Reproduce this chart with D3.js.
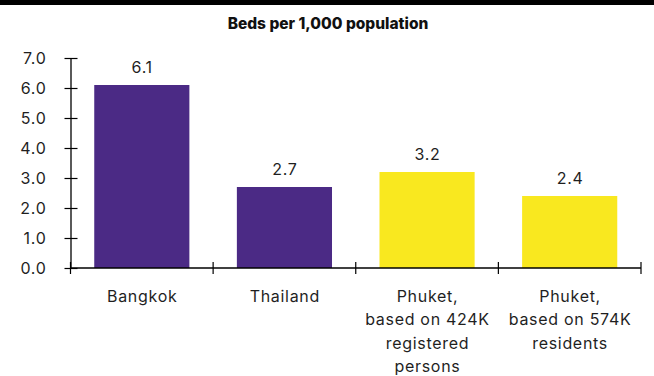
<!DOCTYPE html>
<html>
<head>
<meta charset="utf-8">
<script src="https://cdn.jsdelivr.net/npm/d3@7"></script>
<style>
  html, body { margin: 0; padding: 0; background: #fff; }
  svg { display: block; font-family: Inter, Roboto, "Noto Sans", sans-serif; }
  .lbl { letter-spacing: 0.7px; }
</style>
</head>
<body>
<svg id="chart" width="654" height="376"></svg>
<script>
// Hospital beds per 1,000 population
const categories = [
  ["Bangkok"],
  ["Thailand"],
  ["Phuket,", "based on 424K", "registered", "persons"],
  ["Phuket,", "based on 574K", "residents"]
];
const values = [6.1, 2.7, 3.2, 2.4];
const barColors = ["#4b2a85", "#4b2a85", "#f9e81f", "#f9e81f"];
const yTicks = [0, 1, 2, 3, 4, 5, 6, 7];
const title = "Beds per 1,000 population";

const svg = d3.select("#chart");
const W = 654, H = 376;
const plotLeft = 70.5, plotRight = 641, plotTop = 58, plotBottom = 268;
const textColor = "#1f1f1f";
const labelSize = 16;

// top rule
svg.append("rect").attr("x", 0).attr("y", 0).attr("width", W).attr("height", 5).attr("fill", "#000");

svg.append("text")
  .attr("x", W / 2 + 1).attr("y", 28.5)
  .attr("text-anchor", "middle")
  .attr("font-weight", 800)
  .attr("font-size", 15.5)
  .attr("fill", "#111")
  .text(title);

const idx = d3.range(values.length);
const x = d3.scaleBand().domain(idx).range([plotLeft, plotRight]).paddingInner(0.333).paddingOuter(0.1665);
const y = d3.scaleLinear().domain([0, 7]).range([plotBottom, plotTop]);

// bars
svg.append("g").selectAll("rect").data(idx).join("rect")
  .attr("x", i => x(i))
  .attr("y", i => y(values[i]))
  .attr("width", x.bandwidth())
  .attr("height", i => y(0) - y(values[i]))
  .attr("fill", i => barColors[i]);

// value labels
svg.append("g").selectAll("text").data(idx).join("text")
  .attr("class", "lbl")
  .attr("x", i => x(i) + x.bandwidth() / 2 + 0.4)
  .attr("y", i => y(values[i]) - 12.5)
  .attr("text-anchor", "middle")
  .attr("font-size", labelSize)
  .attr("fill", textColor)
  .text(i => values[i].toFixed(1));

// y axis
const yAxis = svg.append("g").attr("transform", `translate(${plotLeft},0)`)
  .call(d3.axisLeft(y).tickValues(yTicks).tickFormat(d3.format(".1f")).tickSize(6).tickSizeOuter(0));
yAxis.select(".domain").attr("stroke", "#000").attr("stroke-width", 1.3);
yAxis.selectAll(".tick line").attr("x1", -6).attr("x2", 7).attr("stroke", "#000").attr("stroke-width", 1.2);
yAxis.selectAll(".tick text").attr("class", "lbl").attr("x", -24).attr("font-size", labelSize)
  .attr("font-family", "Inter, Roboto, sans-serif").attr("fill", textColor);

// x axis with ticks at band boundaries
const step = (plotRight - plotLeft) / values.length;
const xEdges = d3.range(values.length + 1).map(k => plotLeft + k * step);
const xAxis = svg.append("g");
xAxis.append("line").attr("x1", plotLeft).attr("x2", plotRight).attr("y1", plotBottom).attr("y2", plotBottom)
  .attr("stroke", "#000").attr("stroke-width", 1.3);
xAxis.selectAll("line.tk").data(xEdges).join("line").attr("class", "tk")
  .attr("x1", d => d).attr("x2", d => d).attr("y1", plotBottom - 6).attr("y2", plotBottom + 6)
  .attr("stroke", "#000").attr("stroke-width", 1.2);

// category labels
const lab = svg.append("g").selectAll("text").data(idx).join("text")
  .attr("class", "lbl")
  .attr("x", i => x(i) + x.bandwidth() / 2)
  .attr("y", 302)
  .attr("text-anchor", "middle")
  .attr("font-size", labelSize)
  .attr("fill", textColor);
lab.selectAll("tspan").data(i => categories[i].map(t => ({ t, i }))).join("tspan")
  .attr("x", d => x(d.i) + x.bandwidth() / 2 + 0.4)
  .attr("dy", (d, k) => k === 0 ? 0 : 23.3)
  .text(d => d.t);
</script>
</body>
</html>
